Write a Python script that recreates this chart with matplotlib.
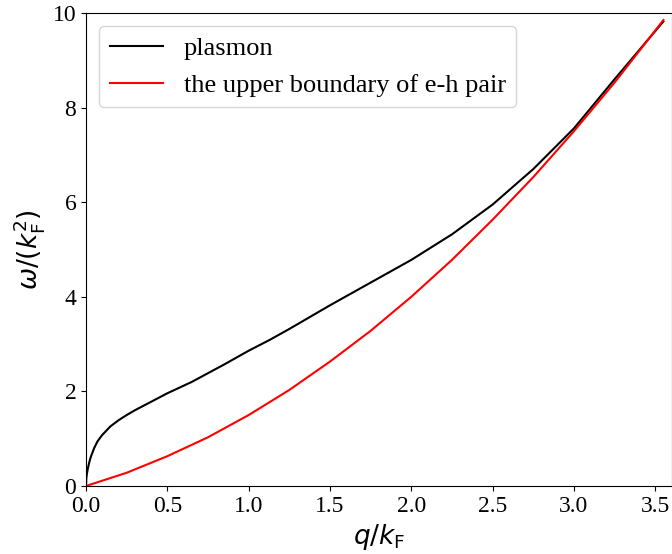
import matplotlib
matplotlib.use("Agg")
import matplotlib.pyplot as plt

# plasmon dispersion
q_plasmon = [0.0, 0.002, 0.006, 0.012, 0.02, 0.03, 0.05, 0.07, 0.10, 0.15,
             0.20, 0.25, 0.30, 0.40, 0.50, 0.65, 0.85, 1.00, 1.13, 1.25,
             1.50, 1.75, 2.00, 2.25, 2.50, 2.75, 3.00, 3.25, 3.55]
w_plasmon = [0.0, 0.16, 0.27, 0.38, 0.50, 0.62, 0.80, 0.94, 1.08, 1.26,
             1.39, 1.50, 1.60, 1.78, 1.96, 2.20, 2.57, 2.86, 3.09, 3.32,
             3.82, 4.30, 4.78, 5.32, 5.95, 6.70, 7.56, 8.60, 9.82]

# upper boundary of e-h continuum
q_eh = [0.0, 0.25, 0.50, 0.75, 1.00, 1.25, 1.50, 1.75, 2.00, 2.25, 2.50,
        2.75, 3.00, 3.25, 3.55]
w_eh = [0.0, 0.28, 0.63, 1.03, 1.50, 2.03, 2.63, 3.28, 4.00, 4.78, 5.63,
        6.53, 7.50, 8.53, 9.85]

x_ticks = [0.0, 0.5, 1.0, 1.5, 2.0, 2.5, 3.0, 3.5]
y_ticks = [0, 2, 4, 6, 8, 10]

plt.rcParams['font.family'] = ['Liberation Serif', 'DejaVu Serif']
plt.rcParams['mathtext.fontset'] = 'dejavusans'

fig = plt.figure(figsize=(6.72, 5.54), dpi=100)
ax = fig.add_axes([86/672, 68/554, 585.5/672, 473/554])

ax.plot(q_plasmon, w_plasmon, color='black', lw=1.5, label='plasmon')
ax.plot(q_eh, w_eh, color='red', lw=1.5, label='the upper boundary of e-h pair')

ax.set_xlim(0, 3.6)
ax.set_ylim(0, 10)
ax.set_xticks(x_ticks)
ax.set_yticks(y_ticks)
ax.tick_params(labelsize=17)
ax.set_xlabel(r'$q/k_\mathrm{F}$', fontsize=19)
ax.set_ylabel(r'$\omega/(k_\mathrm{F}^2)$', fontsize=19)
ax.legend(loc='upper left', fontsize=19)

fig.savefig('out.png', dpi=100)
